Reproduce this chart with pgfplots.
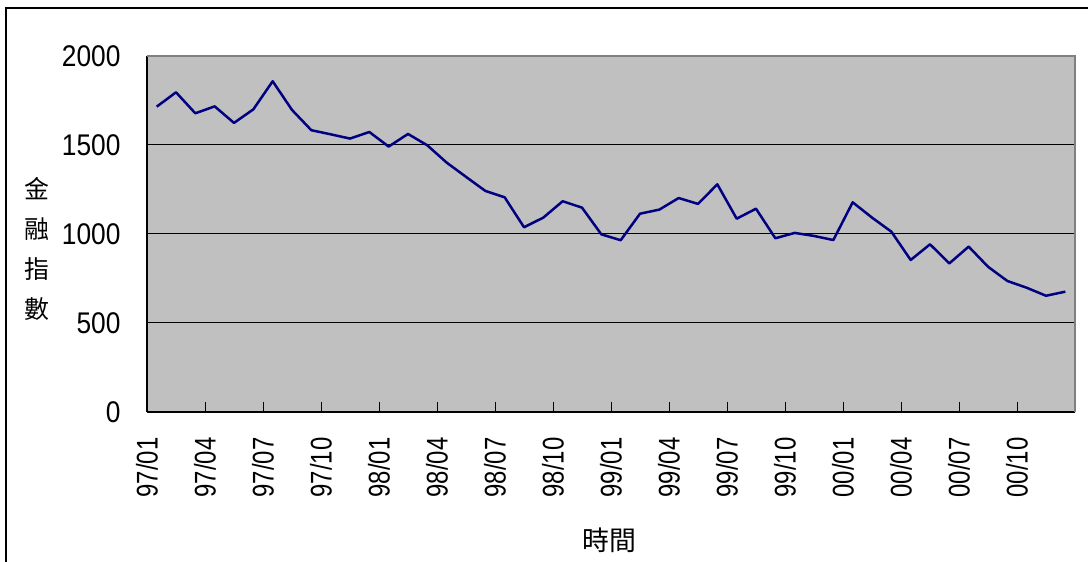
\documentclass[border=0pt]{standalone}
\usepackage{pgfplots}
\pgfplotsset{compat=1.18}
\usepackage{graphicx}
\usepackage{fontspec}
\setmainfont{Liberation Sans}
\newfontfamily\cjk{Noto Sans CJK TC}
\newcommand\nl[1]{\scalebox{0.8}[1]{#1}}
\newcommand\yl[1]{\scalebox{0.88}[1]{#1}}
\definecolor{bggray}{RGB}{192,192,192}
\definecolor{bordergray}{RGB}{128,128,128}
\definecolor{navy}{RGB}{0,0,128}
\pgfplotstableread{
i v
0 1715
1 1796
2 1678
3 1717
4 1624
5 1700
6 1858
7 1697
8 1583
9 1560
10 1536
11 1573
12 1491
13 1562
14 1498
15 1401
16 1321
17 1242
18 1206
19 1038
20 1092
21 1184
22 1148
23 998
24 965
25 1114
26 1137
27 1202
28 1169
29 1279
30 1086
31 1142
32 976
33 1006
34 989
35 966
36 1178
37 1092
38 1013
39 854
40 942
41 835
42 929
43 816
44 736
45 698
46 653
47 676
}\datatable
\begin{document}
\begin{tikzpicture}[x=1bp,y=1bp]
\useasboundingbox (0,0) rectangle (1088,562);
\draw[line width=1.5bp] (6,-5) -- (6,554) -- (1095,554);
\begin{axis}[
  at={(147bp,150bp)}, anchor=south west,
  scale only axis, width=928bp, height=356bp,
  xmin=-0.5, xmax=47.5, ymin=0, ymax=2000,
  axis x line*=bottom, axis y line*=left,
  axis line style={line width=1.3bp, black, -},
  tick align=inside, major tick length=10bp,
  tick style={line width=1bp, black},
  xtick={-0.5,2.5,5.5,8.5,11.5,14.5,17.5,20.5,23.5,26.5,29.5,32.5,35.5,38.5,41.5,44.5},
  xticklabels={\nl{97/01},\nl{97/04},\nl{97/07},\nl{97/10},\nl{98/01},\nl{98/04},\nl{98/07},\nl{98/10},\nl{99/01},\nl{99/04},\nl{99/07},\nl{99/10},\nl{00/01},\nl{00/04},\nl{00/07},\nl{00/10}},
  ytick={0,500,1000,1500,2000},
  yticklabels={\yl{0},\yl{500},\yl{1000},\yl{1500},\yl{2000}},
  ymajorgrids, grid style={line width=1bp, black},
  axis background/.style={fill=bggray},
  xticklabel style={rotate=90, anchor=east, font=\fontsize{30}{30}\selectfont},
  yticklabel style={font=\fontsize{30}{30}\selectfont},
  xticklabel shift=22bp,
  yticklabel shift=23bp,
  clip=false,
]
\addplot[navy, line width=2.5bp, no markers, line join=round] table[x=i, y=v] {\datatable};
\draw[bordergray, line width=2.5bp] (rel axis cs:0,1) -- (rel axis cs:1,1) -- (rel axis cs:1,0);
\end{axis}
\node[font=\cjk\fontsize{25}{40}\selectfont, align=center] at (37,313) {金\\融\\指\\數};
\node[font=\cjk\fontsize{27}{27}\selectfont] at (609,22) {時間};
\end{tikzpicture}
\end{document}
